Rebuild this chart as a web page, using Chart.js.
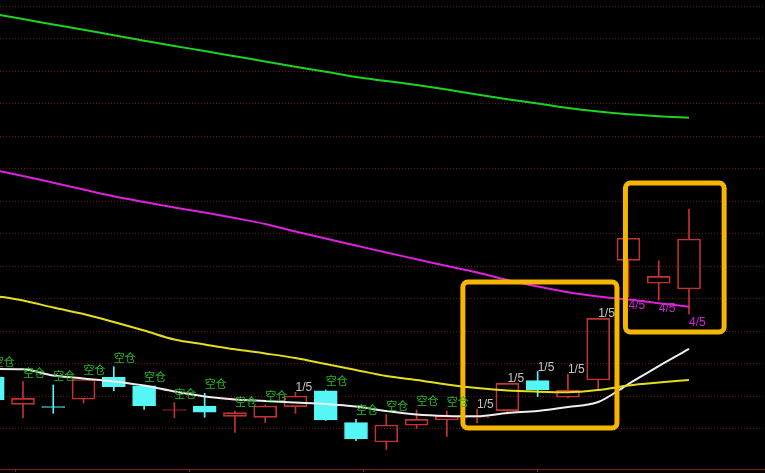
<!DOCTYPE html>
<html><head><meta charset="utf-8">
<script src="https://cdn.jsdelivr.net/npm/chart.js@4.4.1/dist/chart.umd.min.js"></script>
<style>html,body{margin:0;padding:0;background:#000;overflow:hidden}</style>
</head><body>
<canvas id="c" width="765" height="473"></canvas>
<script>
// candle index (x) values
const idx = [0,1,2,3,4,5,6,7,8,9,10,11,12,13,14,15,16,17,18,19,20,21,22,23];
const opens  = [10.800,10.380,10.345,10.457,10.795,10.666,10.286,10.354,10.195,10.180,10.343,10.589,10.097,9.800,10.057,10.138,10.172,10.282,10.743,10.488,10.754,12.595,12.242,12.154];
const highs  = [10.892,10.728,10.677,10.769,10.958,10.669,10.405,10.549,10.277,10.369,10.565,10.600,10.149,10.223,10.292,10.277,10.308,10.703,10.882,10.846,11.703,12.934,12.589,13.385];
const lows   = [10.385,10.174,10.242,10.400,10.589,10.303,10.174,10.180,9.949,10.097,10.242,10.131,9.820,9.685,10.008,9.885,10.092,10.231,10.497,10.477,10.611,12.031,11.985,11.769];
const closes = [10.446,10.472,10.332,10.762,10.651,10.354,10.298,10.257,10.251,10.354,10.508,10.138,9.846,10.062,10.149,10.200,10.188,10.703,10.600,10.600,11.703,12.934,12.349,12.923];
// moving averages
const maWhite   = [10.923,10.918,10.823,10.777,10.731,10.669,10.577,10.500,10.454,10.431,10.408,10.385,10.346,10.277,10.223,10.200,10.195,10.246,10.277,10.338,10.415,10.692,10.969,11.231];
const maYellow  = [12.054,11.977,11.869,11.769,11.646,11.515,11.377,11.300,11.226,11.162,11.092,11.000,10.908,10.815,10.754,10.685,10.631,10.592,10.574,10.565,10.600,10.669,10.715,10.754];
const maMagenta = [13.992,13.892,13.789,13.685,13.580,13.492,13.408,13.331,13.246,13.154,13.038,12.931,12.823,12.715,12.612,12.508,12.408,12.292,12.192,12.103,12.038,11.992,11.934,11.882];
const maGreen   = [16.389,16.308,16.223,16.143,16.057,15.974,15.892,15.815,15.734,15.654,15.572,15.495,15.415,15.354,15.292,15.223,15.146,15.074,15.008,14.938,14.885,14.843,14.811,14.789];
// position signal text per candle
const signals = ['空仓','空仓','空仓','空仓','空仓','空仓','空仓','空仓','空仓','空仓','1/5','空仓','空仓','空仓','空仓','空仓','1/5','1/5','1/5','1/5','1/5','4/5','4/5','4/5'];
// price grid levels
const priceGrid = [10.0,10.5,11.0,11.5,12.0,12.5,13.0,13.5,14.0,14.5,15.0,15.5,16.0,16.5];
// highlight regions: [xFrom, xTo, priceLow, priceHigh]
const highlightA = [15.53, 20.62, 10.015, 12.262];
const highlightB = [20.90, 24.16, 11.492, 13.785];
// bottom axis marks (candle index positions)
const axisMarks = [0.74, 6.49, 12.23, 17.98];

const RED = '#c43232', CYAN = '#55f6f6';
const isUp = idx.map(i => closes[i] >= opens[i]);
const candleColor = idx.map(i => isUp[i] ? RED : CYAN);

const bodyData = idx.map(i => ({x: i, y: [opens[i], closes[i]]}));
const upperWick = idx.map(i => ({x: i, y: [Math.max(opens[i], closes[i]), highs[i]]}));
const lowerWick = idx.map(i => ({x: i, y: [lows[i], Math.min(opens[i], closes[i])]}));
const lineData = arr => idx.map(i => ({x: i, y: arr[i]}));

const decor = {
  id: 'decor',
  afterDatasetsDraw(chart) {
    const ctx = chart.ctx, xs = chart.scales.x, ys = chart.scales.y, area = chart.chartArea;
    ctx.save();
    // bottom axis line
    ctx.strokeStyle = '#8a1c1c';
    ctx.lineWidth = 1;
    ctx.beginPath();
    ctx.moveTo(area.left, Math.round(area.bottom) + 0.5);
    ctx.lineTo(area.right, Math.round(area.bottom) + 0.5);
    axisMarks.forEach(m => {
      const px = Math.round(xs.getPixelForValue(m)) + 0.5;
      ctx.moveTo(px, area.bottom);
      ctx.lineTo(px, area.bottom + 3);
    });
    ctx.stroke();
    // highlight boxes
    const box = (b) => {
      const x1 = xs.getPixelForValue(b[0]), x2 = xs.getPixelForValue(b[1]);
      const y1 = ys.getPixelForValue(b[3]), y2 = ys.getPixelForValue(b[2]);
      const r = 5;
      ctx.beginPath();
      ctx.moveTo(x1 + r, y1);
      ctx.arcTo(x2, y1, x2, y2, r);
      ctx.arcTo(x2, y2, x1, y2, r);
      ctx.arcTo(x1, y2, x1, y1, r);
      ctx.arcTo(x1, y1, x2, y1, r);
      ctx.closePath();
      ctx.stroke();
    };
    ctx.strokeStyle = '#f6b600';
    ctx.lineWidth = 5;
    box(highlightA);
    box(highlightB);
    // signal labels
    ctx.textAlign = 'left';
    ctx.textBaseline = 'alphabetic';
    signals.forEach((s, i) => {
      const px = xs.getPixelForValue(idx[i]);
      if (s === '空仓') {
        ctx.font = '11px "Noto Sans CJK SC"';
        ctx.fillStyle = '#24bc24';
        ctx.fillText(s, px, ys.getPixelForValue(highs[i]) - 5);
      } else if (s === '1/5') {
        ctx.font = '12px "Liberation Sans", Arial, sans-serif';
        ctx.fillStyle = '#c4c4c4';
        ctx.fillText(s, px, ys.getPixelForValue(highs[i]) - 1);
      } else {
        ctx.font = '12px "Liberation Sans", Arial, sans-serif';
        ctx.fillStyle = '#d024d0';
        ctx.fillText(s, px, ys.getPixelForValue(lows[i]) + 12);
      }
    });
    ctx.restore();
  }
};

const lineDs = (data, color) => ({
  type: 'line', data: lineData(data), borderColor: color, borderWidth: 2,
  pointRadius: 0, cubicInterpolationMode: 'monotone', order: 1, fill: false
});

new Chart(document.getElementById('c'), {
  type: 'bar',
  data: {
    datasets: [
      {data: upperWick, backgroundColor: candleColor, borderWidth: 0, barThickness: 1, grouped: false, order: 3},
      {data: lowerWick, backgroundColor: candleColor, borderWidth: 0, barThickness: 1, grouped: false, order: 3},
      {data: bodyData, backgroundColor: idx.map(i => isUp[i] ? 'rgba(0,0,0,0)' : CYAN),
       borderColor: candleColor, borderWidth: 1, borderSkipped: false, barThickness: 23, grouped: false, order: 2},
      lineDs(maGreen, '#1fd21f'),
      lineDs(maMagenta, '#dc22dc'),
      lineDs(maYellow, '#e4de1e'),
      lineDs(maWhite, '#eeeeee')
    ]
  },
  options: {
    responsive: false,
    animation: false,
    devicePixelRatio: 1,
    layout: {padding: {left: 0, right: 0, top: 0, bottom: 4}},
    plugins: {legend: {display: false}, tooltip: {enabled: false}},
    events: [],
    scales: {
      x: {type: 'linear', min: 0.24, max: 25.51, display: false, offset: false},
      y: {
        min: 9.3846, max: 16.6,
        afterBuildTicks: scale => { scale.ticks = priceGrid.map(v => ({value: v})); },
        ticks: {display: false},
        grid: {color: '#6e1616', lineWidth: 1, drawTicks: false},
        border: {display: false, dash: [1, 2]}
      }
    }
  },
  plugins: [decor, {
    id: 'bg',
    beforeDraw(chart) {
      const c = chart.ctx; c.save(); c.fillStyle = '#000'; c.fillRect(0, 0, chart.width, chart.height); c.restore();
    }
  }]
});
</script>
</body></html>
